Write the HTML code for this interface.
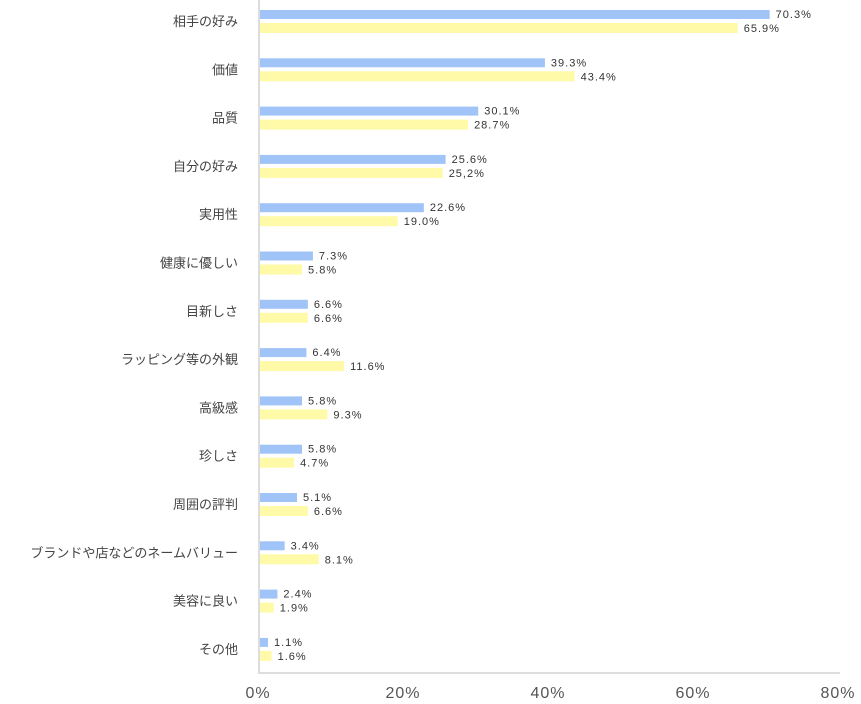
<!DOCTYPE html>
<html><head><meta charset="utf-8"><style>
body{margin:0;background:#fff;width:861px;height:699px;overflow:hidden}
svg{font-family:"Liberation Sans","Noto Sans CJK JP",sans-serif}
</style></head><body>
<svg id="c" width="861" height="699"></svg>
<script>
const categories=["相手の好み","価値","品質","自分の好み","実用性","健康に優しい","目新しさ","ラッピング等の外観","高級感","珍しさ","周囲の評判","ブランドや店などのネームバリュー","美容に良い","その他"];
const seriesA=[70.3,39.3,30.1,25.6,22.6,7.3,6.6,6.4,5.8,5.8,5.1,3.4,2.4,1.1];
const seriesB=[65.9,43.4,28.7,25.2,19.0,5.8,6.6,11.6,9.3,4.7,6.6,8.1,1.9,1.6];
const labelsB=["65.9%","43.4%","28.7%","25,2%","19.0%","5.8%","6.6%","11.6%","9.3%","4.7%","6.6%","8.1%","1.9%","1.6%"];
const ticks=[0,20,40,60,80];
const svg=document.getElementById('c');const NS='http://www.w3.org/2000/svg';
const x0=260,k=7.25,top0=10,pitch=48.3;
const X=v=>x0+v*k;
function mk(t,a,p){const e=document.createElementNS(NS,t);for(const n in a)e.setAttribute(n,a[n]);(p||svg).appendChild(e);return e;}
categories.forEach((c,i)=>{
 const y=top0+i*pitch;
 const t=mk('text',{x:238,y:y+16,'text-anchor':'end','font-size':13,fill:'#444'});t.textContent=c;
 
 
 const a=mk('rect',{x:x0,y:y,width:X(seriesA[i])-x0,height:9,fill:'#a0c4f8'});
 
 
 const b=mk('rect',{x:x0,y:y+13,width:X(seriesB[i])-x0,height:10,fill:'#fffaa8'});
 
 
 const la=mk('text',{x:X(seriesA[i])+6,y:y+8,'font-size':11,fill:'#333','letter-spacing':'1'});la.textContent=seriesA[i].toFixed(1)+'%';
 
 
 const lb=mk('text',{x:X(seriesB[i])+6,y:y+22,'font-size':11,fill:'#333','letter-spacing':'1'});lb.textContent=labelsB[i];
 
 
});
const ax=mk('line',{x1:259,y1:0,x2:259,y2:673,stroke:'#ddd','stroke-width':2});


const bx=mk('line',{x1:258,y1:673,x2:840,y2:673,stroke:'#ddd','stroke-width':2});


ticks.forEach(v=>{const t=mk('text',{x:X(v)-2,y:698,'text-anchor':'middle','font-size':16,fill:'#555','letter-spacing':'1'});t.textContent=v+'%';
 
 });
</script>
</body></html>
